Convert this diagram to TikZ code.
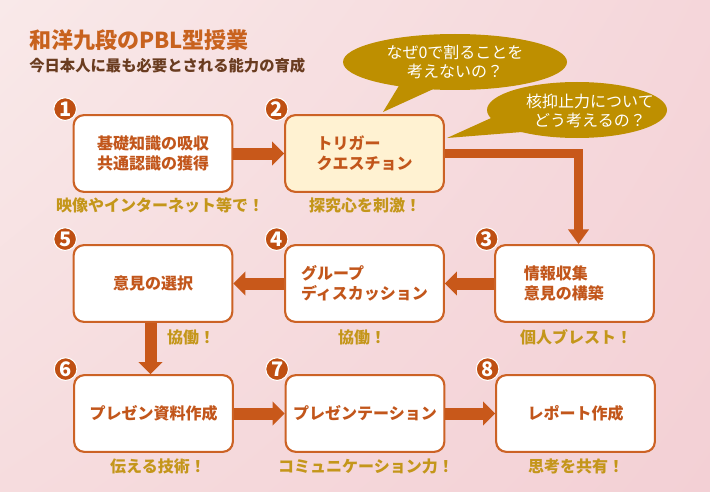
\documentclass[tikz,border=0pt]{standalone}
\usepackage{fontspec}
\newfontfamily\jp{Noto Sans CJK JP}
\usetikzlibrary{arrows.meta,calc,shadings}
\definecolor{bgA}{HTML}{F9E9E9}
\definecolor{bgB}{HTML}{F5D6DA}
\definecolor{bgC}{HTML}{F6DCDE}
\definecolor{bgD}{HTML}{F3D0D5}
\definecolor{boxline}{HTML}{CC6225}
\definecolor{boxtext}{HTML}{C2561B}
\definecolor{arrowc}{HTML}{C8581A}
\definecolor{numc}{HTML}{BF4F12}
\definecolor{gold}{HTML}{C4961A}
\definecolor{bubble}{HTML}{BE8F00}
\definecolor{titlec}{HTML}{C8621E}
\definecolor{subc}{HTML}{6A3C20}
\definecolor{trig}{HTML}{FFF2D2}
\tikzset{
  stepbox/.style={draw=boxline, line width=1.6pt, fill=white, rounded corners=7.5pt,
    minimum width=119pt, minimum height=57.5pt, inner sep=0pt, align=center,
    text=boxtext, font=\jp\bfseries\fontsize{12}{15}\selectfont},
  numdot/.style={circle, fill=numc, draw=white, line width=0.8pt, minimum size=17pt, inner sep=0pt,
    text=white, font=\jp\bfseries\fontsize{15}{15}\selectfont},
  note/.style={text=gold, font=\jp\bfseries\fontsize{12}{14}\selectfont, inner sep=0pt},
  bigarrow/.style={draw=arrowc, line width=9pt, -{Triangle[width=17.5pt,length=9pt]}},
  thinarrow/.style={draw=arrowc, line width=6.75pt, -{Triangle[width=15pt,length=11pt]}},
  bubtext/.style={text=white, align=center, inner sep=0pt, font=\jp\fontsize{12}{14.5}\selectfont},
}
\begin{document}
\begin{tikzpicture}[x=0.75pt,y=-0.75pt]
\useasboundingbox (0,0) rectangle (710,492);
\shade[upper left=bgA, upper right=bgB, lower left=bgC, lower right=bgD] (0,0) rectangle (710,492);

% title
\node[anchor=west, text=titlec, inner sep=0pt, font=\jp\bfseries\fontsize{16.5}{18}\selectfont] (title) at (29,40) {和洋九段のPBL型授業};
\node[anchor=west, text=subc, inner sep=0pt, font=\jp\bfseries\fontsize{11.5}{13}\selectfont] (sub) at (29,66) {今日本人に最も必要とされる能力の育成};

% bubbles
\fill[bubble] (400,84) -- (383,112) -- (440,86) -- cycle;
\fill[bubble] (455,62) ellipse [x radius=112, y radius=28];
\node[bubtext] (q1) at (455,62) {なぜ0で割ることを\\考えないの？};
\fill[bubble] (500,114) -- (447,138) -- (522,132) -- cycle;
\fill[bubble] (577,110) ellipse [x radius=90, y radius=28];
\node[bubtext] (q2) at (590,111) {核抑止力について\\どう考えるの？};

% boxes
\node[stepbox] (b1) at (153,153.5) {基礎知識の吸収\\共通認識の獲得};
\node[stepbox, fill=trig, align=left] (b2) at (364.5,153.5) {トリガー\\クエスチョン};
\node[stepbox, align=left] (b3) at (574.5,283.5) {情報収集\\意見の構築\hspace*{16pt}};
\node[stepbox, align=left] (b4) at (364.5,283.5) {グループ\\ディスカッション};
\node[stepbox] (b5) at (153,283.5) {意見の選択};
\node[stepbox] (b6) at (153.5,413.5) {プレゼン資料作成};
\node[stepbox] (b7) at (365,413.5) {プレゼンテーション};
\node[stepbox] (b8) at (575.5,413.5) {レポート作成};

% numbers
\foreach \b/\n in {b1/1,b2/2,b3/3,b4/4,b5/5,b6/6,b7/7,b8/8}{
  \node[numdot] (n\n) at ($(\b.north west)+(-7.5,-5)$) {\n};
}

% connectors
\draw[bigarrow] (b1.east) -- (b2.west);
\draw[thinarrow] (b2.east) -| ($(b3.north)+(4,0)$);
\draw[bigarrow] (b3.west) -- (b4.east);
\draw[bigarrow] (b4.west) -- (b5.east);
\draw[bigarrow] ($(b5.south)+(-2.5,0)$) -- ($(b6.north)+(-3,0)$);
\draw[bigarrow] (b6.east) -- (b7.west);
\draw[bigarrow] (b7.east) -- (b8.west);

% notes
\node[note] (l1) at (160,205) {映像やインターネット等で！};
\node[note] (l2) at (365,205) {探究心を刺激！};
\node[note] (l5) at (191,337) {協働！};
\node[note] (l4) at (362,337) {協働！};
\node[note] (l3) at (576,337) {個人ブレスト！};
\node[note] (l6) at (158,466) {伝える技術！};
\node[note] (l7) at (366,466) {コミュニケーション力！};
\node[note] (l8) at (576,466) {思考を共有！};
\end{tikzpicture}
\end{document}
